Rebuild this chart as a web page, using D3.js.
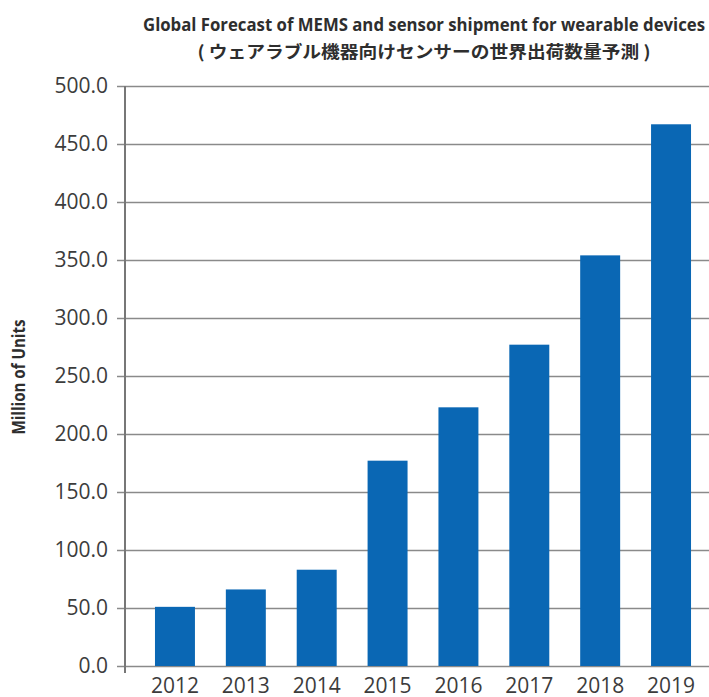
<!DOCTYPE html>
<html>
<head>
<meta charset="utf-8">
<script src="https://cdn.jsdelivr.net/npm/d3@7"></script>
<style>
  body { margin: 0; background: #fff; }
  svg { display: block; }
</style>
</head>
<body>
<svg id="chart" width="709" height="697"></svg>
<script>
const years = ['2012', '2013', '2014', '2015', '2016', '2017', '2018', '2019'];
const shipments = [51, 66, 83, 177, 223, 277, 354, 467];
const yTicks = [0, 50, 100, 150, 200, 250, 300, 350, 400, 450, 500];
const titleLines = [
  'Global Forecast of MEMS and sensor shipment for wearable devices',
  '( ウェアラブル機器向けセンサーの世界出荷数量予測 )',
];
const yLabel = 'Million of Units';

const svg = d3.select('#chart');
const plotLeft = 125;
const plotRight = 721;
const plotTop = 86;
const plotBottom = 666;
const narrow = '"Liberation Sans Narrow", "Open Sans", sans-serif';

const x = d3
  .scaleBand()
  .domain(years)
  .range([plotLeft, plotRight])
  .paddingInner(0.436)
  .paddingOuter(0.423);
const y = d3.scaleLinear().domain([0, 500]).range([plotBottom, plotTop]);

// grid + ticks in one go, ticks poke out 8px left of the axis
const yAxis = svg
  .append('g')
  .attr('transform', `translate(${plotLeft},0)`)
  .call(
    d3
      .axisLeft(y)
      .tickValues(yTicks)
      .tickSize(-(plotRight - plotLeft))
      .tickPadding(17)
      .tickFormat(d3.format('.1f'))
  );
yAxis.select('.domain').remove();
yAxis
  .selectAll('.tick line')
  .attr('x1', -8)
  .attr('stroke', '#8a8a8a')
  .attr('stroke-width', 1.6);
yAxis
  .selectAll('.tick text')
  .attr('fill', '#3c3c3c')
  .style('font-family', '"Open Sans", sans-serif')
  .style('font-size', '21px');

svg
  .selectAll('rect.bar')
  .data(shipments)
  .enter()
  .append('rect')
  .attr('class', 'bar')
  .attr('x', (d, i) => x(years[i]))
  .attr('width', x.bandwidth())
  .attr('y', d => y(d))
  .attr('height', d => y(0) - y(d))
  .attr('fill', '#0a67b4');

// vertical axis line, runs a bit below zero
svg
  .append('line')
  .attr('x1', plotLeft)
  .attr('x2', plotLeft)
  .attr('y1', plotTop)
  .attr('y2', plotBottom + 7)
  .attr('stroke', '#777')
  .attr('stroke-width', 2);

const xAxis = svg
  .append('g')
  .attr('transform', `translate(0,${plotBottom})`)
  .call(d3.axisBottom(x).tickSize(0));
xAxis.select('.domain').remove();
xAxis
  .selectAll('.tick text')
  .attr('dy', 0)
  .attr('y', 27)
  .attr('fill', '#3c3c3c')
  .style('font-family', '"Open Sans", sans-serif')
  .style('font-size', '21px');

svg
  .append('text')
  .attr('x', 424)
  .attr('y', 31)
  .attr('text-anchor', 'middle')
  .attr('textLength', 562)
  .attr('lengthAdjust', 'spacingAndGlyphs')
  .attr('fill', '#2e2e2e')
  .style('font-family', narrow)
  .style('font-weight', 'bold')
  .style('font-size', '18px')
  .text(titleLines[0]);

svg
  .append('text')
  .attr('x', 424)
  .attr('y', 58)
  .attr('text-anchor', 'middle')
  .attr('textLength', 453)
  .attr('lengthAdjust', 'spacingAndGlyphs')
  .attr('fill', '#2e2e2e')
  .style('font-family', '"Noto Sans CJK JP", sans-serif')
  .style('font-weight', 'bold')
  .style('font-size', '17px')
  .text(titleLines[1]);

svg
  .append('text')
  .attr('transform', 'translate(25,377) rotate(-90)')
  .attr('text-anchor', 'middle')
  .attr('textLength', 115)
  .attr('lengthAdjust', 'spacingAndGlyphs')
  .attr('fill', '#2e2e2e')
  .style('font-family', narrow)
  .style('font-weight', 'bold')
  .style('font-size', '18px')
  .text(yLabel);
</script>
</body>
</html>
